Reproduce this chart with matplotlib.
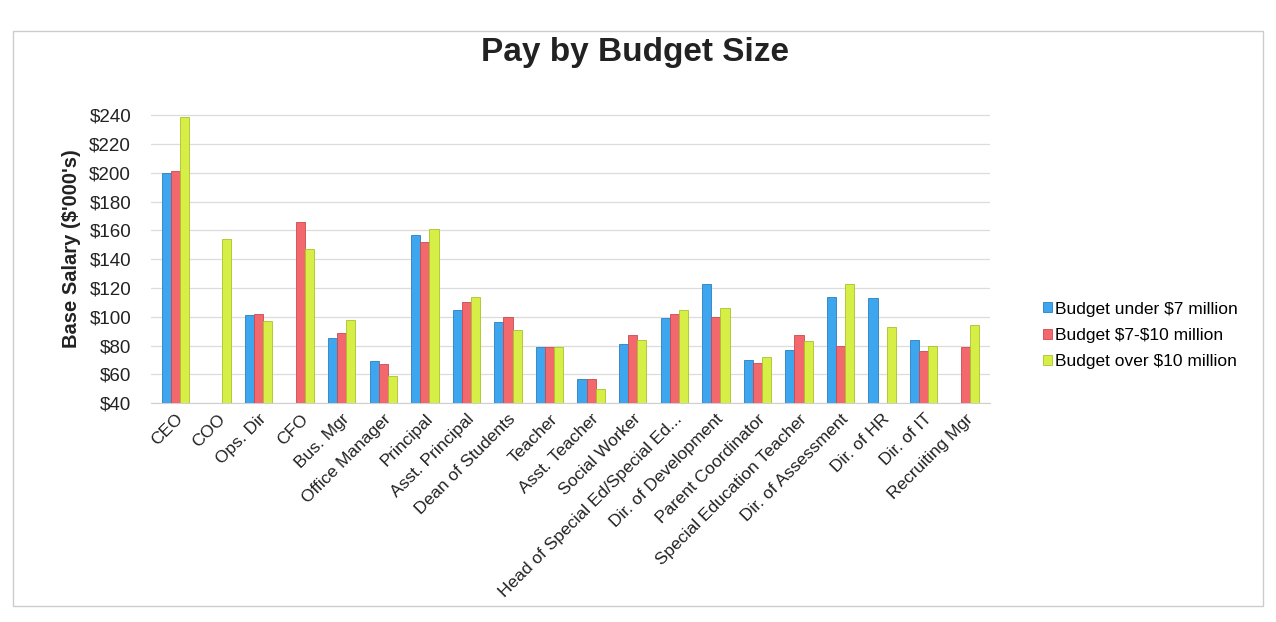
import matplotlib
matplotlib.use("Agg")
import numpy as np
import matplotlib.pyplot as plt

plt.rcParams.update({"font.family": ["Liberation Sans", "DejaVu Sans"]})

CATEGORIES = ["CEO", "COO", "Ops. Dir", "CFO", "Bus. Mgr", "Office Manager", "Principal",
              "Asst. Principal", "Dean of Students", "Teacher", "Asst. Teacher",
              "Social Worker", "Head of Special Ed/Special Ed...", "Dir. of Development",
              "Parent Coordinator", "Special Education Teacher", "Dir. of Assessment",
              "Dir. of HR", "Dir. of IT", "Recruiting Mgr"]
UNDER_7 = [200, np.nan, 101, np.nan, 85, 69, 157, 105, 96, 79, 57, 81, 99, 123, 70, 77, 114, 113, 84, np.nan]
MID_7_10 = [201, np.nan, 102, 166, 89, 67, 152, 110, 100, 79, 57, 87, 102, 100, 68, 87, 80, np.nan, 76, 79]
OVER_10 = [239, 154, 97, 147, 98, 59, 161, 114, 91, 79, 50, 84, 105, 106, 72, 83, 123, 93, 80, 94]
SERIES = [r"Budget under \$7 million", r"Budget \$7-\$10 million", r"Budget over \$10 million"]
YTICKS = list(range(40, 241, 20))

COLORS = ["#3ea6ee", "#f2686c", "#d6ee45"]
EDGES = ["#2a7fc0", "#c94a50", "#a9c22a"]

fig = plt.figure(figsize=(12.76, 6.22), dpi=100)
fig.patch.set_facecolor("white")
ax = fig.add_axes([0.118, 0.352, 0.658, 0.495])

x = np.arange(len(CATEGORIES))
w = 0.22
for i, (vals, c, e, lab) in enumerate(zip([UNDER_7, MID_7_10, OVER_10], COLORS, EDGES, SERIES)):
    v = np.array(vals, dtype=float)
    ax.bar(x + (i - 1) * w, v - 40, width=w, bottom=40, color=c, edgecolor=e,
           linewidth=0.6, label=lab, zorder=3)

ax.set_xlim(-0.6, len(CATEGORIES) - 0.4)
ax.set_ylim(40, 254)
ax.set_yticks(YTICKS)
ax.set_yticklabels([f"${t}" for t in YTICKS], fontsize=13.5, color="#222222")
ax.yaxis.grid(True, color="#dcdcdc", lw=0.9, zorder=0)
ax.set_xticks(x)
ax.set_xticklabels(CATEGORIES, rotation=45, ha="right", rotation_mode="anchor",
                   fontsize=12.5, color="#222222")
ax.tick_params(axis="x", length=0, pad=6)
ax.tick_params(axis="y", length=0, pad=14)
for s in ["top", "right", "left"]:
    ax.spines[s].set_visible(False)
ax.spines["bottom"].set_color("#cfcfcf")

ax.set_ylabel("Base Salary ($'000's)", fontsize=14.5, fontweight="bold", color="#222222", labelpad=6)
fig.text(0.498, 0.915, "Pay by Budget Size", ha="center", va="center",
         fontsize=24, fontweight="bold", color="#222222")

ax.legend(loc="center left", bbox_to_anchor=(1.055, 0.22), frameon=False, fontsize=12.5,
          borderaxespad=0, handlelength=0.5, handleheight=0.5, handletextpad=0.15,
          labelspacing=0.65)

fig.add_artist(plt.Rectangle((0.01, 0.025), 0.98, 0.925, transform=fig.transFigure,
                             fill=False, edgecolor="#cccccc", lw=1))

fig.savefig("out.png", dpi=100, facecolor="white")
